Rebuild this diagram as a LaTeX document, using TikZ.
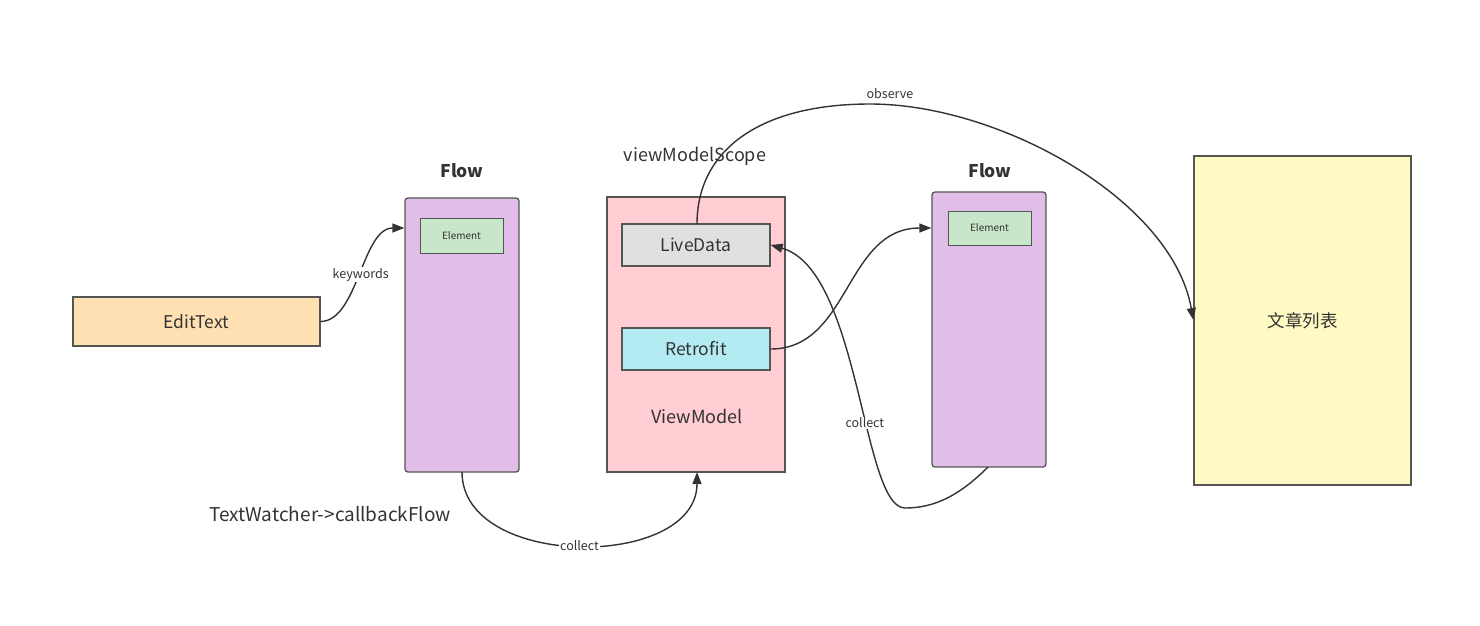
\documentclass[tikz,border=0pt]{standalone}
\usepackage{fontspec}
\setmainfont{Noto Sans CJK SC}
\usetikzlibrary{arrows.meta}
\definecolor{txt}{HTML}{333333}
\definecolor{edge}{HTML}{555555}
\definecolor{orangebg}{HTML}{FFE0B2}
\definecolor{purplebg}{HTML}{E1BEE7}
\definecolor{greenbg}{HTML}{C8E6C9}
\definecolor{pinkbg}{HTML}{FFCDD2}
\definecolor{greybg}{HTML}{E0E0E0}
\definecolor{cyanbg}{HTML}{B2EBF2}
\definecolor{yellowbg}{HTML}{FFF9C4}
\tikzset{
  box/.style={draw=edge, line width=1.3pt, text=txt, inner sep=0pt, font=\fontsize{17.5}{20}\selectfont},
  flowbox/.style={box, fill=purplebg, rounded corners=3pt},
  elembox/.style={draw=edge, line width=0.8pt, fill=greenbg, text=txt, font=\fontsize{10}{12}\selectfont},
  lbl/.style={text=txt, font=\fontsize{18}{20}\selectfont},
  conn/.style={draw=txt, line width=1.4pt, -{Triangle[length=12pt,width=9pt]}},
  elabel/.style={fill=white, text=txt, inner sep=1pt, font=\fontsize{12.5}{14}\selectfont},
}
\begin{document}
\begin{tikzpicture}[x=1pt,y=-1pt]
\useasboundingbox (0,0) rectangle (1480,625);
% nodes
\node[box, fill=orangebg, minimum width=247pt, minimum height=49pt] (edit) at (196.5,321.5) {EditText};
\node[flowbox, minimum width=114pt, minimum height=274pt] (flow1) at (462,335) {};
\node[elembox, minimum width=83pt, minimum height=35pt] (el1) at (461.5,235.5) {Element};
\node[lbl, font=\bfseries\fontsize{17.5}{20}\selectfont] (flow1t) at (462,171) {Flow};
\node[box, fill=pinkbg, minimum width=178pt, minimum height=275pt] (vm) at (696,334.5) {};
\node[lbl] (vmt) at (697,416) {ViewModel};
\node[lbl] (scope) at (695,156) {viewModelScope};
\node[box, fill=greybg, minimum width=148pt, minimum height=42pt] (live) at (696,245) {LiveData};
\node[box, fill=cyanbg, minimum width=148pt, minimum height=42pt] (retro) at (696,349) {Retrofit};
\node[flowbox, minimum width=114pt, minimum height=275pt] (flow2) at (989,329.5) {};
\node[elembox, minimum width=83pt, minimum height=34pt] (el2) at (989.5,228) {Element};
\node[lbl, font=\bfseries\fontsize{17.5}{20}\selectfont] (flow2t) at (990,171) {Flow};
\node[box, fill=yellowbg, minimum width=217pt, minimum height=329pt] (list) at (1302.5,320.5) {文章列表};
\node[lbl, font=\fontsize{19}{22}\selectfont] (tw) at (330,514) {TextWatcher->callbackFlow};
% connectors
\coordinate (f1b) at (462,472);
\coordinate (vmb) at (697,472);
\coordinate (f2b) at (988,467);
\coordinate (lvt) at (697,224);
\draw[conn] (edit.east) .. controls (358,321) and (362,228) .. node[elabel, pos=0.5] {keywords} (flow1.west |- 0,228);
\draw[conn] (f1b) .. controls (462,570) and (697,570) .. node[elabel, pos=0.5] {collect} (vmb);
\draw[conn] (retro.east) .. controls (850,349) and (845,228) .. (flow2.west |- 0,228);
\draw[conn] (f2b) .. controls (960,495) and (935,508) .. (905,508) .. controls (862,508) and (860,270) .. node[elabel, pos=0.40] {collect} (live.east);
\draw[conn] (lvt) .. controls (697,150) and (760,104) .. (870,104) node[elabel, above=4pt, fill=none, xshift=20pt] {observe} .. controls (1000,104) and (1172,200) .. (list.west |- 0,320);
\end{tikzpicture}
\end{document}
